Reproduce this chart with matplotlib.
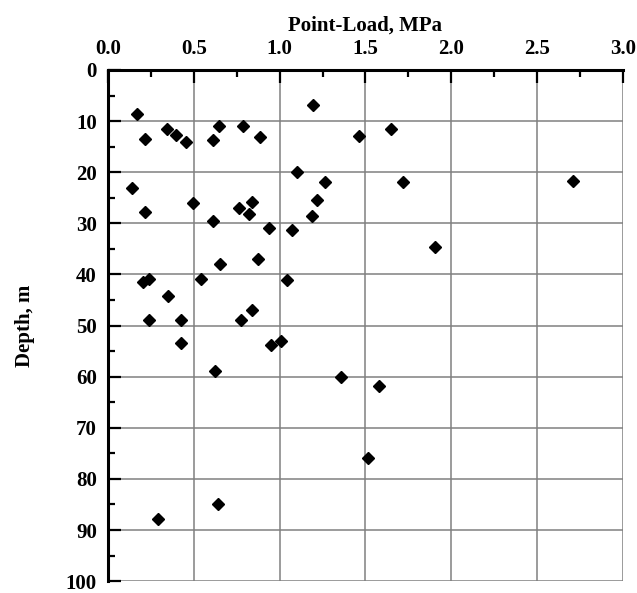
import matplotlib
matplotlib.use('Agg')
import matplotlib.pyplot as plt
from matplotlib.ticker import MultipleLocator, FormatStrFormatter

# point-load strength vs depth
load = [0.167, 0.215, 0.342, 0.396, 0.454, 0.646, 0.610, 0.788, 0.885, 1.196,
        1.464, 1.648, 1.099, 1.266, 0.138, 0.215, 0.497, 0.763, 0.840, 0.821,
        0.613, 0.938, 1.073, 1.220, 1.188, 1.716, 2.710, 1.905, 0.652, 0.876,
        0.206, 0.239, 0.542, 1.044, 0.351, 0.840, 0.241, 0.423, 0.773, 0.425,
        0.949, 1.008, 0.623, 1.355, 1.578, 1.512, 0.639, 0.289]
depth = [8.6, 13.5, 11.5, 12.7, 14.1, 11.0, 13.7, 11.0, 13.2, 6.9,
         13.0, 11.5, 20.0, 21.9, 23.0, 27.7, 26.0, 27.0, 25.9, 28.1,
         29.6, 31.0, 31.4, 25.5, 28.6, 21.9, 21.8, 34.7, 37.9, 37.0,
         41.5, 40.8, 40.8, 41.0, 44.3, 46.9, 49.0, 49.0, 49.0, 53.4,
         53.9, 53.0, 58.9, 60.0, 61.9, 76.0, 84.9, 87.9]

plt.rcParams['font.family'] = 'Liberation Serif'
plt.rcParams['font.weight'] = 'bold'

fig = plt.figure(figsize=(6.37, 5.93), dpi=100)
ax = fig.add_axes([0.1695, 0.02, 0.8085, 0.862])

ax.plot(load, depth, 'D', color='black', ms=6.5, zorder=3, clip_on=False)

ax.set_xlim(0, 3.0)
ax.set_ylim(100, 0)
ax.xaxis.tick_top()
ax.xaxis.set_label_position('top')
ax.xaxis.set_major_locator(MultipleLocator(0.5))
ax.xaxis.set_minor_locator(MultipleLocator(0.25))
ax.yaxis.set_major_locator(MultipleLocator(10))
ax.yaxis.set_minor_locator(MultipleLocator(5))
ax.xaxis.set_major_formatter(FormatStrFormatter('%.1f'))

ax.grid(True, which='major', color='#808080', lw=1.1)
ax.tick_params(which='major', direction='in', length=9.5, width=1.6,
               labelsize=15, pad=8)
ax.tick_params(which='minor', direction='in', length=5, width=1.6)

for s in ['right', 'bottom']:
    ax.spines[s].set_visible(False)
for s in ['top', 'left']:
    ax.spines[s].set_linewidth(2.2)

ax.set_xlabel('Point-Load, MPa', fontsize=15, fontweight='bold', labelpad=6)
ax.set_ylabel('Depth, m', fontsize=15, fontweight='bold', labelpad=22)

fig.savefig('out.png', dpi=100)
